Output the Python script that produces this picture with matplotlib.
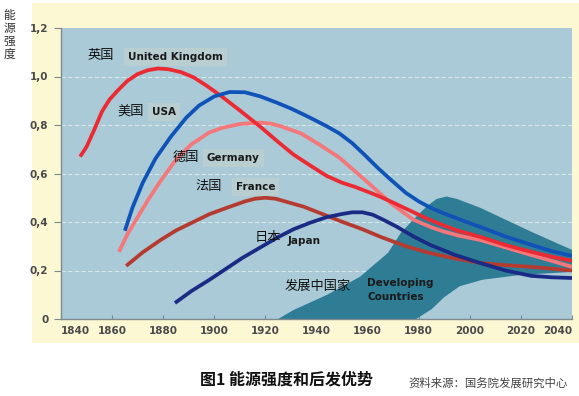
import numpy as np
import matplotlib
matplotlib.use("Agg")
import matplotlib.pyplot as plt
from matplotlib.patches import Rectangle

plt.rcParams['font.family'] = ['Noto Sans CJK SC', 'DejaVu Sans']

# ---------------- data ----------------
uk_years = [1847.5, 1850, 1853, 1856, 1859, 1862, 1866, 1870, 1874, 1878, 1882, 1887, 1892, 1897,
            1903, 1910, 1918, 1925, 1931, 1938, 1944, 1950, 1955, 1960, 1965, 1970, 1975, 1980,
            1984, 1990, 1995, 2004, 2014, 2024, 2032, 2040]
uk_vals = [0.67, 0.71, 0.78, 0.855, 0.905, 0.94, 0.982, 1.01, 1.026, 1.033, 1.03, 1.018, 0.996, 0.962,
           0.917, 0.86, 0.793, 0.73, 0.678, 0.63, 0.59, 0.562, 0.545, 0.525, 0.504, 0.48, 0.455, 0.43,
           0.41, 0.385, 0.365, 0.339, 0.305, 0.277, 0.257, 0.24]

usa_years = [1865, 1868, 1872, 1877, 1883, 1889, 1894, 1900, 1906, 1912, 1918, 1924.5, 1930, 1935,
             1939, 1944, 1949, 1954, 1959, 1964, 1969, 1975, 1980, 1985, 1990, 1995, 2000, 2004,
             2014, 2024, 2032, 2040]
usa_vals = [0.364, 0.46, 0.562, 0.662, 0.752, 0.83, 0.88, 0.918, 0.936, 0.935, 0.918, 0.892, 0.868,
            0.843, 0.822, 0.795, 0.765, 0.725, 0.675, 0.623, 0.575, 0.52, 0.485, 0.457, 0.435, 0.415,
            0.395, 0.38, 0.34, 0.306, 0.28, 0.26]

ger_years = [1862.7, 1866, 1870, 1874, 1879, 1885, 1891, 1898, 1903, 1910, 1918, 1922, 1926, 1934,
             1941, 1949, 1955, 1962, 1970, 1978, 1985, 1990, 1996, 2004, 2014, 2024, 2032, 2040]
ger_vals = [0.277, 0.35, 0.42, 0.49, 0.57, 0.657, 0.72, 0.769, 0.788, 0.804, 0.81, 0.806, 0.795, 0.765,
            0.72, 0.665, 0.61, 0.545, 0.47, 0.409, 0.378, 0.36, 0.343, 0.326, 0.295, 0.264, 0.24, 0.215]

fra_years = [1865.5, 1872, 1879, 1885, 1892, 1898, 1905, 1912, 1916, 1920, 1924, 1927, 1935, 1943,
             1950, 1958, 1965, 1975, 1984, 1994, 2004, 2014, 2024, 2040]
fra_vals = [0.219, 0.275, 0.326, 0.365, 0.401, 0.432, 0.459, 0.485, 0.496, 0.50, 0.496, 0.487, 0.463,
            0.43, 0.401, 0.37, 0.339, 0.30, 0.273, 0.25, 0.231, 0.222, 0.215, 0.20]

jpn_years = [1884.6, 1891, 1898, 1905, 1911, 1918, 1924.5, 1931, 1937.5, 1944, 1950, 1954, 1958,
             1962, 1966, 1971.5, 1978, 1984.4, 1994, 2004, 2014, 2024, 2032, 2040]
jpn_vals = [0.066, 0.115, 0.161, 0.21, 0.252, 0.295, 0.335, 0.37, 0.397, 0.42, 0.433, 0.44, 0.44,
            0.43, 0.41, 0.38, 0.34, 0.306, 0.265, 0.231, 0.20, 0.178, 0.172, 0.169]

dev_upper_years = [1925, 1931, 1944, 1957, 1968, 1973, 1977, 1983, 1987, 1991, 1995, 2004, 2024, 2040]
dev_upper_vals = [0.0, 0.037, 0.099, 0.174, 0.273, 0.355, 0.40, 0.463, 0.495, 0.505, 0.495, 0.459, 0.36, 0.285]
dev_lower_years = [1925, 1979, 1985, 1990, 1996, 2005, 2020, 2040]
dev_lower_vals = [0.0, 0.0, 0.04, 0.09, 0.135, 0.162, 0.182, 0.194]

x_ticks = [1840, 1860, 1880, 1900, 1920, 1940, 1960, 1980, 2000, 2020, 2040]
y_ticks = [0, 0.2, 0.4, 0.6, 0.8, 1.0, 1.2]
y_tick_labels = ["0", "0,2", "0,4", "0,6", "0,8", "1,0", "1,2"]

# ---------------- figure ----------------
W, H = 579, 396
fig = plt.figure(figsize=(W / 100, H / 100), dpi=100)
fig.patch.set_facecolor("white")

# pale yellow panel
fig.patches.append(Rectangle((32 / W, 1 - 343 / H), 1 - 32 / W, (343 - 3) / H,
                             transform=fig.transFigure, facecolor="#FCF8D4",
                             edgecolor="none", zorder=-5))

ax = fig.add_axes([61 / W, 1 - 319 / H, (572 - 61) / W, (319 - 28) / H])
ax.set_zorder(2)
ax.set_facecolor("#A9CAD6")
ax.set_xlim(1840, 2040)
ax.set_ylim(0, 1.2)

# grid
for yv in y_ticks[1:-1]:
    ax.axhline(yv, color="white", lw=0.8, ls=(0, (4, 2)), alpha=0.55, zorder=1)

# developing countries band
poly_x = np.concatenate([dev_upper_years, dev_lower_years[::-1]])
poly_y = np.concatenate([dev_upper_vals, dev_lower_vals[::-1]])
ax.fill(poly_x, poly_y, color="#2F7C95", lw=0, zorder=2)

lw = 2.7
kw = dict(lw=lw, solid_capstyle="butt", solid_joinstyle="round", zorder=3)
ax.plot(fra_years, fra_vals, color="#B53B31", **kw)
ax.plot(jpn_years, jpn_vals, color="#1A2B86", **kw)
ax.plot(ger_years, ger_vals, color="#F6777A", **kw)
ax.plot(uk_years, uk_vals, color="#EC2A33", **kw)
ax.plot(usa_years, usa_vals, color="#0F52B8", **kw)

# spines / ticks
for s in ["top", "right"]:
    ax.spines[s].set_visible(False)
for s in ["left", "bottom"]:
    ax.spines[s].set_color("#7E8A8C")
    ax.spines[s].set_linewidth(1.0)

ax.set_xticks(x_ticks)
ax.set_xticklabels([str(v) for v in x_ticks])
ax.set_yticks(y_ticks)
ax.set_yticklabels(y_tick_labels)
ax.tick_params(axis="x", direction="in", length=3, color="#7E8A8C", pad=5,
               labelsize=7.5, labelcolor="#4A4A4A")
ax.tick_params(axis="y", direction="out", length=5, color="#7E8A8C", pad=4,
               labelsize=7.5, labelcolor="#4A4A4A")
for lab in ax.get_xticklabels() + ax.get_yticklabels():
    lab.set_family(["DejaVu Sans"])
    lab.set_fontweight("bold")
xl = ax.get_xticklabels()
xl[0].set_horizontalalignment("left")
xl[-1].set_horizontalalignment("right")

# labels
cn_kw = dict(fontsize=9.5, color="#111111", family=["Noto Sans CJK SC", "DejaVu Sans"],
             va="center", ha="left", zorder=5)
en_kw = dict(fontsize=7.5, color="#1A1A1A", fontweight="bold",
             family=["DejaVu Sans"], va="center", ha="left", zorder=5)
box = dict(boxstyle="square,pad=0.35", facecolor="#BFD0D0", edgecolor="none", alpha=0.7)


def px(xp, yp):
    return (1840 + (xp - 61) / (572 - 61) * 200, (319 - yp) / (319 - 28) * 1.2)


ax.text(*px(88, 56), "英国", **cn_kw)
ax.text(*px(128, 57), "United Kingdom", bbox=box, **en_kw)
ax.text(*px(117, 111), "美国", **cn_kw)
ax.text(*px(152, 112), "USA", bbox=box, **en_kw)
ax.text(*px(173, 157), "德国", **cn_kw)
ax.text(*px(207, 158), "Germany", bbox=box, **en_kw)
ax.text(*px(195, 186), "法国", **cn_kw)
ax.text(*px(236, 187), "France", bbox=box, **en_kw)
ax.text(*px(255, 237), "日本", **cn_kw)
ax.text(*px(288, 241), "Japan", **en_kw)
ax.text(*px(285, 286), "发展中国家", **cn_kw)
ax.text(*px(367, 283), "Developing", **en_kw)
ax.text(*px(367, 297), "Countries", **en_kw)

# y label (stacked characters)
fig.text(9.5 / W, 1 - 9 / H, "能\n源\n强\n度", fontsize=8.5, color="#333333",
         ha="center", va="top", linespacing=1.0)

# title and source
fig.text(286 / W, 1 - 380 / H, "图1 能源强度和后发优势", fontsize=11.5, fontweight="bold",
         color="#111111", ha="center", va="center")
fig.text(408 / W, 1 - 383 / H, "资料来源：国务院发展研究中心", fontsize=8.2,
         color="#444444", ha="left", va="center")

fig.savefig("out.png", dpi=100)
